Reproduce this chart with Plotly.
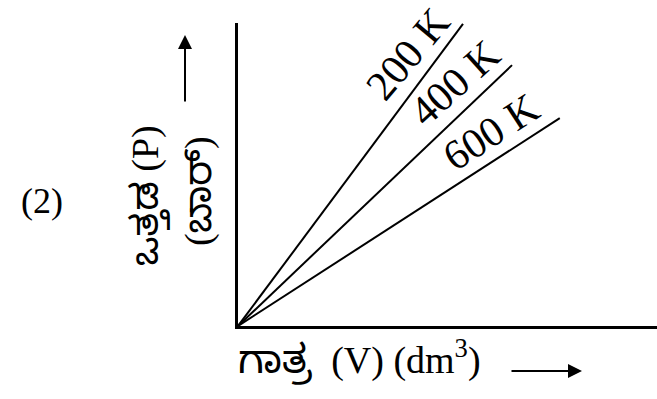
import plotly.graph_objects as go

# Isotherms drawn as straight lines through the origin (P against V)
temperatures = ["200 K", "400 K", "600 K"]
volume_end = [5.37, 6.54, 7.68]
pressure_end = [9.97, 8.61, 6.86]

SERIF = "Liberation Serif, Times New Roman, serif"
KANNADA = "Noto Sans Kannada, Noto Serif Kannada, sans-serif"


def kn(s, size):
    return f"<span style='font-family:{KANNADA};font-size:{size}px'>{s}</span>"


x_title = kn("ಗಾತ್ರ", 40) + "  (V) (dm<sup>3</sup>)"
y_title_main = kn("ಒತ್ತಡ", 38) + " (P)"
y_title_unit = "(" + kn("ಬಾರ್", 38) + ")"
option_tag = "(2)"

W, H = 657, 399
L, R, T, B = 238, 0, 23, 73
PW, PH = W - L - R, H - T - B


def px(x):
    return (x - L) / PW


def py(y):
    return (H - B - y) / PH


fig = go.Figure()
for name, xv, yv in zip(temperatures, volume_end, pressure_end):
    fig.add_trace(go.Scatter(x=[0, xv], y=[0, yv], mode="lines",
                             line=dict(color="black", width=2),
                             name=name, showlegend=False, hoverinfo="skip"))


def note(text, x, y, size, angle=0, xanchor="center"):
    return dict(text=text, x=px(x), y=py(y), xref="paper", yref="paper",
                xanchor=xanchor, yanchor="middle", showarrow=False,
                textangle=angle,
                font=dict(family=SERIF, size=size, color="black"))


annotations = []
# isotherm labels, placed above each line's upper end
label_pos = [(408, 54, -50), (455, 83, -42), (491, 132, -33)]
for name, (cx, cy, ang) in zip(temperatures, label_pos):
    annotations.append(note(name, cx, cy, 42, ang))

annotations += [
    note(x_title, 236, 364, 38, xanchor="left"),
    note(y_title_main, 151, 196, 38, -90),
    note(y_title_unit, 204, 191, 38, -90),
    note(option_tag, 42, 201, 36),
    # direction arrows beside the axis titles
    dict(text="", x=px(185), y=py(35), xref="paper", yref="paper",
         showarrow=True, ax=0, ay=68, arrowhead=2, arrowsize=1.4,
         arrowwidth=2, arrowcolor="black"),
    dict(text="", x=px(582), y=py(371), xref="paper", yref="paper",
         showarrow=True, ax=-72, ay=0, arrowhead=2, arrowsize=1.4,
         arrowwidth=2, arrowcolor="black"),
]

axis_common = dict(showgrid=False, zeroline=False, showticklabels=False,
                   ticks="", showline=True, linecolor="black", linewidth=3,
                   fixedrange=True)
fig.update_layout(
    width=W, height=H,
    margin=dict(l=L, r=R, t=T, b=B),
    paper_bgcolor="white", plot_bgcolor="white",
    xaxis=dict(range=[0, 10], **axis_common),
    yaxis=dict(range=[0, 10], **axis_common),
    annotations=annotations,
)

fig.write_html("out.html")
